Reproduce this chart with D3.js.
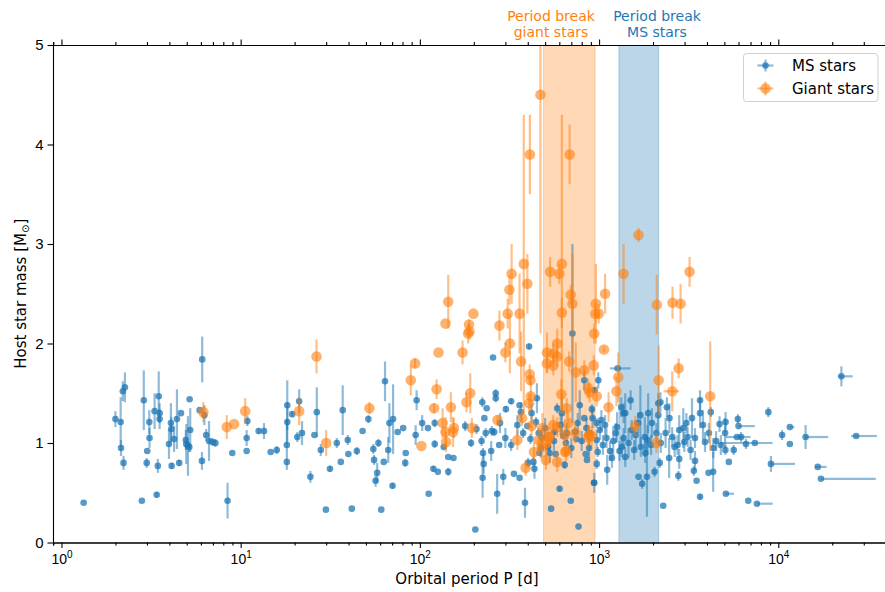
<!DOCTYPE html>
<html>
<head>
<meta charset="utf-8">
<script src="https://cdn.jsdelivr.net/npm/d3@7"></script>
<style>
  body { margin: 0; background: #fff; }
  svg { display: block; font-family: "DejaVu Sans", sans-serif; }
</style>
</head>
<body>
<div id="chart"></div>
<script>
// [period (d), mass (Msun), mass error, optional period bar ends low/high]
const msStars = [
  [1.33,0.40,0],[2.0,1.24,0.08],[2.2,1.52,0.1],[2.26,1.56,0.15],[2.14,1.21,0.25],[2.15,0.95,0.08],
  [2.22,0.80,0.07],[2.81,0.42,0],[2.88,1.43,0.3],[2.99,0.80,0.05],[3.01,0.92,0],[3.09,1.21,0.12],
  [3.1,1.05,0.1],[3.31,1.32,0.18],[3.4,0.48,0.03],[3.45,0.77,0.07],[3.49,1.47,0.25],[3.53,1.30,0.1],
  [3.53,1.24,0.1],[3.98,0.99,0.15],[4.08,1.20,0.2],[4.1,1.14,0.12],[4.12,0.77,0.03],[4.25,1.04,0.13],
  [4.41,1.24,0.3],[4.54,0.80,0.03],[4.64,1.30,0],[4.94,1.03,0.1],[4.97,0.99,0.2],[5.08,0.97,0.3],
  [5.17,0.96,0.05],[5.19,1.44,0],[5.23,1.13,0.22],[6.1,1.84,0.23],[6.08,0.82,0.09],[5.9,1.33,0],
  [6.27,1.28,0.1],[6.42,1.08,0.06],[6.66,1.02,0.2],[6.97,1.01,0.04],[7.23,1.00,0.04],[8.45,0.42,0.18],
  [8.98,0.90,0],[10.9,1.22,0.05],[10.8,1.05,0.08],[10.8,0.92,0],[12.6,1.12,0.03],[13.5,1.12,0.08],
  [14.7,0.91,0],[15.9,0.93,0.04],[18.1,0.81,0],[18.1,0.98,0.25],[18.2,1.21,0.2],[18.2,1.38,0.25],
  [19.4,1.29,0.03],[20.7,1.06,0.05],[21.2,1.42,0.12],[22.0,1.10,0.12],[24.5,0.66,0.06],[25.8,1.08,0],
  [26.6,1.31,0.25],[28.0,0.93,0.06],[29.9,0.33,0],[31.5,0.74,0.03],
  [34.4,1.00,0.05],[36.2,0.81,0],[37.1,1.33,0.25],[39.6,1.03,0.05],[39.9,0.89,0],[41.7,0.34,0],
  [44.5,0.92,0.04],[47.9,1.12,0],[51.6,1.24,0.04],[55,0.94,0.05],[55.5,0.83,0.05],[56.6,0.62,0.06],
  [57.8,0.70,0.1],[58.7,1.00,0.04],[60.9,0.33,0],[62.9,0.81,0],[63.9,1.62,0.2],[66.6,0.93,0.13],
  [67.6,1.20,0.2],[70.4,0.57,0.03],[70.9,1.24,0.35],[75.2,1.11,0],[80.7,1.15,0],[82.9,0.80,0.04],
  [83.4,0.90,0],[94.7,1.08,0.1],[95.9,1.43,0.1],[103,1.20,0.08],[111,1.15,0],[112,0.49,0],
  [119,0.74,0.03],[121,0.99,0.04],[121,1.20,0.04],[126,0.71,0],[136,0.96,0],[144,0.71,0.04],
  [144,0.86,0],[154,0.85,0],[179,1.17,0.05],[193,1.00,0.04],[204,0.13,0],[207,1.14,0.05],
  [221,1.02,0.05],[223,1.41,0.05],[225,0.90,0.05],[227,0.79,0.1],[224,0.65,0.2],[229,1.25,0],
  [233,1.10,0.05],[236,1.35,0],[252,1.12,0.05],[256,1.86,0],[260,1.11,0.04],[265,1.45,0.04],
  [265,1.50,0.04],[270,0.49,0.2],[277,0.98,0],[292,0.66,0.08],[302,1.34,0.03],[323,1.42,0.03],
  [323,0.98,0.06],[335,0.69,0],[360,1.38,0],[360,0.65,0],[366,1.31,0.1],[377,1.10,0.05],
  [386,0.40,0.15],[398,1.17,0],[402,0.80,0.05],[407,1.97,0.03],[414,1.04,0.05],[430,0.81,0.05],
  [436,0.74,0.1],[445,1.21,0.05],[460,1.10,0.05],[464,0.90,0],[474,0.95,0.1],[520,0.96,0.04],
  [540,0.34,0],[563,1.11,0.03],[573,0.89,0],[584,1.35,0.05],[602,0.54,0.03],[631,1.07,0],
  [643,0.78,0.04],[653,1.00,0.03],[695,0.42,0],[710,2.10,0.9],[735,1.11,0.05],[748,1.04,0],
  [768,0.16,0],[827,1.63,0.1],[827,1.25,0],[842,0.89,0],[856,0.83,0],[890,1.10,0],
  [912,1.34,0.05],[936,0.60,0.02],[944,1.53,0.03],[970,1.03,0.1],[983,0.91,0.05],[970,1.20,0.05],
  [480,1.05,0.1],[500,1.15,0.1],[530,0.90,0.1],[560,1.02,0.1],[610,1.18,0.1],[660,1.10,0.1],
  [700,0.95,0.1],[760,1.20,0.1],[800,1.02,0.1],[850,1.15,0.1],[880,0.95,0.1],[420,1.30,0.1],
  [350,1.18,0.1],[300,1.05,0.1],[280,1.20,0.1],[450,1.45,0.15],[620,1.30,0.2],[780,1.38,0.15],
  [920,1.25,0.1],[250,0.92,0.1],
  [22500,1.67,0.1,21500,26000],[27200,1.07,0,25500,35500],[17300,0.64,0,17300,35000],
  [16600,0.76,0,16000,18600],[14200,1.06,0.12,14200,19000],[11600,1.16,0,11600,12300],
  [11600,0.99,0],[10500,1.08,0.05],[9100,0.79,0.08,9100,12400],[8800,1.31,0.05],
  [7600,0.39,0,7600,9300],[6800,0.42,0],[5100,0.49,0,5100,5660],[7400,1.00,0,4800,9300],
  [5950,1.24,0.05],[6000,1.17,0,6000,7400],[5880,1.06,0,5100,7000],[5080,1.21,0.1],
  [5050,1.10,0.15],[5640,0.93,0.05],[5300,0.81,0],[4700,1.19,0.08],[4330,0.71,0.2],
  [4200,1.31,0.05],[4100,1.10,0.1],[4080,0.70,0],[3660,1.43,0.1],[3660,1.30,0.15],[3660,0.46,0.03],
  [3500,0.62,0],[3380,0.72,0.05],[3430,0.82,0.1],[3070,1.20,0.1],[3120,1.06,0.1],[2800,1.13,0.15],
  [2800,0.84,0.1],[2770,0.67,0.05],[2740,0.98,0.1],[2470,1.25,0.15],[2460,0.85,0.2],[2390,1.36,0.1],
  [2180,0.80,0.05],[2140,1.28,0.15],[2140,1.40,0.1],[2040,0.71,0.05],[2280,0.37,0],[1850,0.66,0.4],
  [1740,0.59,0.05],[1660,0.66,0],[1970,1.20,0.15],[1880,1.30,0.2],[1800,1.06,0.2],[1700,1.28,0.3],
  [1570,0.93,0.1],[1500,1.43,0.1],[1400,0.86,0.1],[1400,1.30,0.2],[1340,0.96,0.1],
  [1270,1.75,0,1150,1500],[1240,1.10,0.1],[1110,0.73,0.15],[990,1.63,0.08],[970,0.79,0.05],
  [940,0.60,0.1],[1180,0.85,0.1],[1010,1.13,0.1],[1100,1.05,0.1],[1260,1.16,0.15],[1370,1.05,0.1],
  [1460,1.00,0.15],[1520,1.13,0.1],[1710,0.96,0.1],[1810,0.90,0.1],[1860,1.03,0.15],[2090,1.10,0.1],
  [2210,1.00,0.1],[2560,1.06,0.1],[2640,0.96,0.1],[2990,1.01,0.1],[3240,0.93,0.1],[3430,1.05,0.1],
  [3900,1.01,0.1],[4340,0.95,0.1],[4780,0.98,0.1],[5070,0.93,0.05],[6200,1.06,0.05],[6600,0.99,0.05],
  [1330,1.36,0.1],[1370,1.30,0.1],[1030,1.23,0.1],[2200,1.41,0.1],[1050,0.98,0.1],[1150,0.92,0.1],
  [1200,1.02,0.15],[1080,1.18,0.1],[1300,0.92,0.1],[1600,1.08,0.15],[1650,1.20,0.1],[1950,0.98,0.1],
  [2350,1.10,0.15],[2950,1.15,0.2],[3300,1.25,0.2],[3800,1.18,0.15],[4500,1.02,0.1]
];

const giantStars = [
  [6.19,1.31,0.1],[8.37,1.16,0.12],[9.19,1.19,0],[10.6,1.32,0.13],[21.2,1.32,0.14],[26.5,1.87,0.17],
  [30.0,1.00,0.13],[52.3,1.35,0.06],[89,1.63,0.15],[94,1.80,0.05],[102,0.97,0],[120,1.35,0.05],
  [124,1.54,0.1],[127,1.91,0],[134,1.20,0.15],[139,1.11,0.15],[140,1.01,0.1],[139,2.20,0],
  [144,2.42,0.27],[149,1.36,0.15],[153,1.11,0.15],[155,1.15,0.1],[173,1.91,0.12],[182,1.41,0.1],
  [186,2.10,0.1],[189,2.12,0.08],[188,2.19,0.05],[191,1.50,0.2],[195,1.15,0.1],[199,2.30,0],
  [271,1.23,0.05],[278,2.18,0.15],[300,1.91,0.1],[309,2.30,0.15],[316,2.54,0.15],[318,2.00,0.3],
  [325,2.70,0.3],[350,1.03,0.1],[360,2.30,0.4],[367,1.82,0.3],[372,1.25,0.08],[380,2.80,1.5],
  [389,0.75,0.08],[398,2.60,0.3],[407,1.40,0.1],[410,1.69,0.1],[411,3.90,0.4],[414,1.63,0.05],
  [416,1.47,0.15],[420,1.17,0.1],[433,0.91,0.1],[460,1.03,0.1],[471,4.50,2.4],[477,0.96,0.1],
  [483,1.15,0.15],[505,0.83,0.1],[508,1.00,0.1],[512,1.91,0.2],[512,1.80,0.1],[518,1.06,0.1],
  [530,1.06,0.1],[533,2.72,0.15],[555,1.90,0.1],[555,1.78,0.1],[555,1.18,0.1],[584,2.00,0.15],
  [584,1.87,0.1],[584,1.16,0.1],[584,0.81,0.1],[600,2.70,0.1],[616,1.49,0.15],[620,2.80,1.5],
  [620,2.31,0.15],[645,1.08,0.1],[648,0.91,0.05],[655,0.92,0.1],[660,1.35,0.1],[674,1.20,0.1],
  [681,1.82,0.1],[685,3.90,0.3],[695,2.49,0.1],[710,2.40,0.5],[735,1.10,0.1],[741,1.71,0.3],
  [827,1.73,0.1],[868,1.55,0.1],[868,1.06,0.1],[880,1.08,0.1],[885,1.51,0.1],[910,1.07,0.1],
  [934,1.78,0.1],[940,2.10,0.1],[953,2.30,0.1],[960,2.40,0.4],[970,1.47,0.1],[995,2.30,0.1],
  [1065,1.94,0.03],[1080,2.50,0.2],[1130,1.36,0.15],[1250,1.52,0.15],[1280,1.66,0.25],
  [1370,2.70,0.3],[1590,1.17,0.1],[1660,3.09,0.07],[2090,1.00,0.1],[2100,2.39,0.3],
  [2150,1.63,0.35],[2560,1.52,0.2,2290,2790],[2570,2.41,0.16],[2780,1.75,0.1],[2850,2.40,0.2],
  [3200,2.72,0.15],[4170,1.47,0.55]
];

// period ranges of the two breaks (d)
const breakGiant = [490, 950];
const breakMS = [1290, 2150];

const massTicks = [0, 1, 2, 3, 4, 5];
const periodTicks = [1, 10, 100, 1000, 10000];

const blue = "#1f77b4", orange = "#ff7f0e";
const width = 885, height = 592;
const plotL = 53, plotR = 885, plotT = 45, plotB = 542.5;

const x = d3.scaleLog().domain([0.897, 39400]).range([plotL, plotR]);
const y = d3.scaleLinear().domain([0, 5]).range([plotB, plotT]);

const svg = d3.select("#chart").append("svg")
  .attr("width", width).attr("height", height);

svg.append("clipPath").attr("id", "plotArea")
  .append("rect").attr("x", plotL).attr("y", plotT)
  .attr("width", plotR - plotL).attr("height", plotB - plotT);

const plot = svg.append("g").attr("clip-path", "url(#plotArea)");

// shaded period-break bands
[[breakGiant, orange], [breakMS, blue]].forEach(([b, c]) => {
  plot.append("rect")
    .attr("x", x(b[0])).attr("y", plotT)
    .attr("width", x(b[1]) - x(b[0])).attr("height", plotB - plotT)
    .attr("fill", c).attr("fill-opacity", 0.3)
    .attr("stroke", c).attr("stroke-opacity", 0.3);
});

function drawSeries(data, color, r, barW, dotAlpha) {
  const g = plot.append("g");
  g.selectAll("line.v")
    .data(data.filter(d => d[2] > 0))
    .join("line")
    .attr("x1", d => x(d[0])).attr("x2", d => x(d[0]))
    .attr("y1", d => y(d[1] - d[2])).attr("y2", d => y(d[1] + d[2]))
    .attr("stroke", color).attr("stroke-width", barW).attr("stroke-opacity", 0.5);
  g.selectAll("line.h")
    .data(data.filter(d => d.length > 3))
    .join("line")
    .attr("x1", d => x(d[3])).attr("x2", d => x(d[4]))
    .attr("y1", d => y(d[1])).attr("y2", d => y(d[1]))
    .attr("stroke", color).attr("stroke-width", barW).attr("stroke-opacity", 0.5);
  g.selectAll("circle")
    .data(data)
    .join("circle")
    .attr("cx", d => x(d[0])).attr("cy", d => y(d[1]))
    .attr("r", r)
    .attr("fill", color).attr("fill-opacity", dotAlpha);
}

drawSeries(msStars, blue, 3.3, 2.2, 0.75);
drawSeries(giantStars, orange, 5.3, 2.2, 0.6);

// axes
const minorTicks = [];
for (let e = -1; e <= 4; e++) {
  for (let k = 2; k <= 9; k++) {
    const v = k * Math.pow(10, e);
    if (v >= x.domain()[0] && v <= x.domain()[1]) minorTicks.push(v);
  }
}

function styleAxis(g) {
  g.select(".domain").attr("stroke", "#000").attr("stroke-width", 1.1);
  g.selectAll(".tick line").attr("stroke", "#000").attr("stroke-width", 1.1);
}

[["bottom", plotB, d3.axisBottom], ["top", plotT, d3.axisTop]].forEach(([name, pos, ax]) => {
  svg.append("g").attr("transform", `translate(0,${pos})`)
    .call(ax(x).tickValues(minorTicks).tickSize(3).tickFormat(""))
    .call(styleAxis);
  const gm = svg.append("g").attr("transform", `translate(0,${pos})`)
    .call(ax(x).tickValues(periodTicks).tickSize(5.5).tickSizeOuter(0).tickFormat(""))
    .call(styleAxis);
  if (name === "bottom") {
    gm.selectAll(".tick").append("text")
      .attr("y", 21).attr("fill", "#000")
      .attr("text-anchor", "middle")
      .style("font-size", "14px")
      .text("10")
      .append("tspan")
      .attr("dy", -6).style("font-size", "10px")
      .text(d => Math.round(Math.log10(d)));
  }
});

svg.append("g").attr("transform", `translate(${plotL},0)`)
  .call(d3.axisLeft(y).tickValues(massTicks).tickSize(5.5).tickSizeOuter(0)
    .tickPadding(4).tickFormat(d3.format("d")))
  .call(styleAxis)
  .call(g => g.selectAll(".tick text").attr("fill", "#000").style("font-size", "15px"));

// axis titles
svg.append("text")
  .attr("x", (plotL + plotR) / 2 - 2).attr("y", 584)
  .attr("text-anchor", "middle").style("font-size", "15px")
  .text("Orbital period P [d]");

const yl = svg.append("text")
  .attr("transform", `translate(26,${(plotT + plotB) / 2}) rotate(-90)`)
  .attr("text-anchor", "middle").style("font-size", "15px");
yl.append("tspan").text("Host star mass [M");
yl.append("tspan").attr("dy", 3).style("font-size", "10px").text("\u2299");
yl.append("tspan").attr("dy", -3).text("]");

// break annotations above the plot
[[["Period break", "giant stars"], orange, 551], [["Period break", "MS stars"], blue, 657]]
  .forEach(([lines, c, cx]) => {
    lines.forEach((s, i) => svg.append("text")
      .attr("x", cx).attr("y", 20.5 + i * 16.4)
      .attr("text-anchor", "middle")
      .attr("fill", c).style("font-size", "14px")
      .text(s));
  });

// legend
const lg = svg.append("g");
lg.append("rect")
  .attr("x", 743.5).attr("y", 53.5).attr("width", 134.5).attr("height", 48)
  .attr("rx", 3).attr("fill", "#fff").attr("fill-opacity", 0.8)
  .attr("stroke", "#d0d0d0").attr("stroke-width", 1);
[["MS stars", blue, 3.3, 6, 0.75], ["Giant stars", orange, 5.3, 7, 0.6]].forEach(([label, c, r, ev, a], i) => {
  const cy = 65.5 + i * 23, cx = 765.5;
  lg.append("line").attr("x1", cx - 8).attr("x2", cx + 8).attr("y1", cy).attr("y2", cy)
    .attr("stroke", c).attr("stroke-width", 2.2).attr("stroke-opacity", 0.5);
  lg.append("line").attr("x1", cx).attr("x2", cx).attr("y1", cy - ev).attr("y2", cy + ev)
    .attr("stroke", c).attr("stroke-width", 2.2).attr("stroke-opacity", 0.5);
  lg.append("circle").attr("cx", cx).attr("cy", cy).attr("r", r)
    .attr("fill", c).attr("fill-opacity", a);
  lg.append("text").attr("x", 792).attr("y", cy + 5.5)
    .style("font-size", "15px").text(label);
});
</script>
</body>
</html>
